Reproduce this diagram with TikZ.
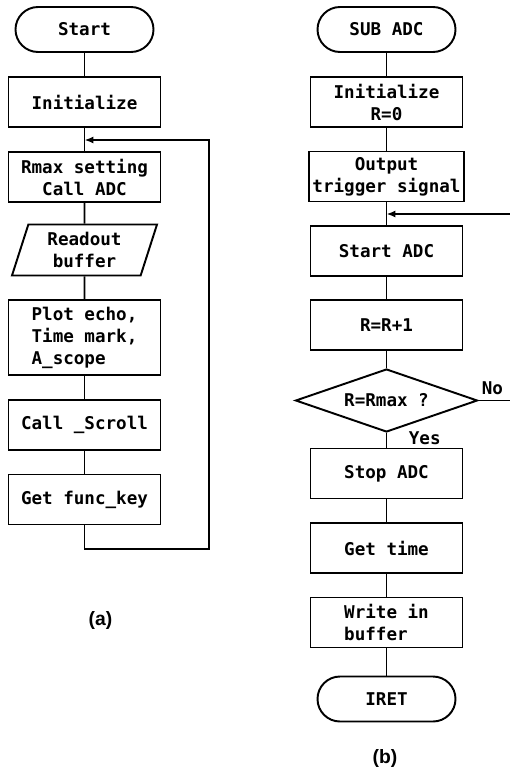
\documentclass[tikz,border=0pt]{standalone}
\usepackage{fontspec}
\setmonofont{DejaVu Sans Mono}
\setsansfont{Liberation Sans}
\usetikzlibrary{
    calc,
    arrows.meta,
    shapes.geometric
}
\tikzset{
    proc/.style={draw, line width=1.1pt, rectangle, minimum width=3.04cm, minimum height=1cm,
        inner sep=2pt, align=center, font=\ttfamily\bfseries\fontsize{10}{12.5}\selectfont},
    term/.style={proc, rounded corners=0.45cm, minimum width=2.76cm, minimum height=0.9cm},
    io/.style={proc, trapezium, trapezium left angle=69, trapezium right angle=111,
        trapezium stretches body, minimum width=2.9cm, minimum height=1.02cm},
    test/.style={proc, diamond, aspect=2.9, minimum width=3.64cm, minimum height=1.26cm, inner sep=0pt},
    lbl/.style={inner sep=0pt, font=\ttfamily\bfseries\fontsize{10}{12.5}\selectfont},
    subcap/.style={inner sep=0pt, font=\sffamily\bfseries\fontsize{11}{13}\selectfont},
    flow/.style={line width=1.1pt},
    back/.style={flow, -{Latex[length=5pt,width=4pt]}}
}

\begin{document}
\begin{tikzpicture}
        \useasboundingbox (0,0) rectangle (10.18,-15.36);

        % main program
        \draw (1.69,-0.59) node[term](st){Start};
        \draw (1.69,-2.04) node[proc](ini){Initialize};
        \draw (1.69,-3.54) node[proc](rmx){Rmax setting\\Call ADC};
        \draw (1.69,-5.00) node[io](rd){Readout\\buffer};
        \draw (1.69,-6.75) node[proc, minimum height=1.5cm, align=left](plt){Plot echo,\\Time mark,\\A\_scope};
        \draw (1.69,-8.50) node[proc](scr){Call \_Scroll};
        \draw (1.69,-9.99) node[proc](fk){Get func\_key};
        \draw (2.01,-12.40) node[subcap](la){(a)};

        \coordinate (ja) at (1.69,-2.80);
        \coordinate (lb) at (4.18,-10.98);

        \draw[flow] (st) -- (ini);
        \draw[flow] (ini) -- (rmx);
        \draw[flow] (rmx) -- (rd);
        \draw[flow] (rd) -- (plt);
        \draw[flow] (plt) -- (scr);
        \draw[flow] (scr) -- (fk);
        \draw[back] (fk.south) |- (lb) |- (ja);

        % ADC subroutine
        \draw (7.73,-0.59) node[term](sub){SUB ADC};
        \draw (7.73,-2.04) node[proc](ini2){Initialize\\R=0};
        \draw (7.73,-3.53) node[proc](trg){Output\\trigger signal};
        \draw (7.73,-5.02) node[proc](sadc){Start ADC};
        \draw (7.73,-6.50) node[proc](inc){R=R+1};
        \draw (7.73,-8.01) node[test](cmp){R=Rmax ?};
        \draw (7.73,-9.47) node[proc](stp){Stop ADC};
        \draw (7.73,-10.96) node[proc](gt){Get time};
        \draw (7.73,-12.45) node[proc, align=left](wr){Write in\\buffer};
        \draw (7.73,-13.98) node[term](iret){IRET};
        \draw (7.70,-15.16) node[subcap](lb2){(b)};

        \coordinate (jb) at (7.73,-4.28);
        \coordinate (rb) at (10.24,-8.01);

        \draw[flow] (sub) -- (ini2);
        \draw[flow] (ini2) -- (trg);
        \draw[flow] (trg) -- (sadc);
        \draw[flow] (sadc) -- (inc);
        \draw[flow] (inc) -- (cmp);
        \draw[flow] (cmp) -- (stp);
        \draw[flow] (stp) -- (gt);
        \draw[flow] (gt) -- (wr);
        \draw[flow] (wr) -- (iret);
        \draw[back] (cmp.east) -- (rb) |- (jb);

        \draw ($(cmp.east)+(0.06,0.13)$) node[lbl, anchor=base west](no){No};
        \draw ($(cmp.south)+(0.44,0.04)$) node[lbl, anchor=north west](yes){Yes};
    \end{tikzpicture}
\end{document}
